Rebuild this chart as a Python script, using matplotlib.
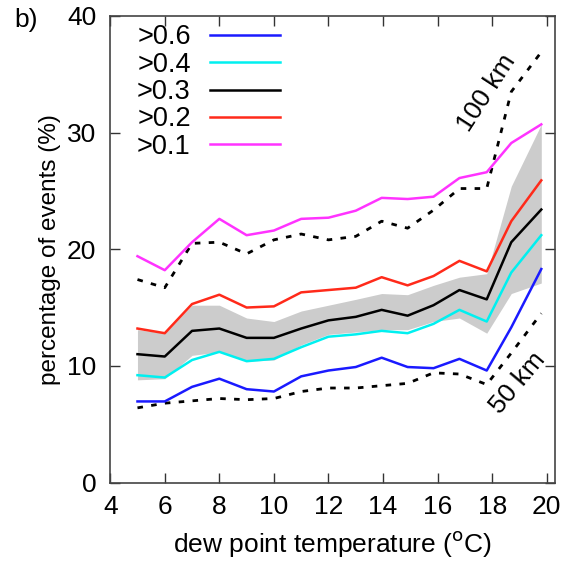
import matplotlib
matplotlib.use("Agg")
import matplotlib.pyplot as plt

plt.rcParams["font.family"] = ["Liberation Sans", "DejaVu Sans"]

# ---- data ----
dew = [5, 6, 7, 8, 9, 10, 11, 12, 13, 13.95, 14.9, 15.85, 16.8, 17.8, 18.7, 19.8]
p06 = [6.95, 6.95, 8.2, 8.9, 8.0, 7.8, 9.1, 9.6, 9.9, 10.7, 9.9, 9.8, 10.6, 9.6, 13.3, 18.3]
p04 = [9.2, 9.0, 10.5, 11.2, 10.4, 10.6, 11.6, 12.5, 12.7, 13.0, 12.8, 13.6, 14.8, 13.8, 18.0, 21.2]
p03 = [11.0, 10.8, 13.0, 13.2, 12.4, 12.4, 13.2, 13.9, 14.2, 14.8, 14.3, 15.2, 16.5, 15.7, 20.6, 23.4]
p02 = [13.2, 12.8, 15.3, 16.1, 15.0, 15.1, 16.3, 16.5, 16.7, 17.6, 16.9, 17.7, 19.0, 18.1, 22.4, 25.9]
p01 = [19.4, 18.2, 20.6, 22.6, 21.2, 21.6, 22.6, 22.7, 23.3, 24.4, 24.3, 24.5, 26.1, 26.6, 29.1, 30.7]
band_lo = [8.8, 8.9, 10.9, 11.2, 10.4, 10.5, 11.8, 12.7, 12.9, 13.1, 13.1, 13.8, 14.1, 12.8, 16.2, 17.1]
band_hi = [13.1, 12.8, 15.2, 15.2, 14.1, 13.8, 14.7, 15.2, 15.7, 16.2, 16.1, 16.9, 17.6, 17.9, 25.4, 30.7]
km100 = [17.4, 16.7, 20.5, 20.6, 19.6, 20.8, 21.3, 20.8, 21.1, 22.4, 21.8, 23.35, 25.2, 25.2, 33.5, 36.9]
km50 = [6.4, 6.8, 7.0, 7.2, 7.1, 7.2, 7.8, 8.1, 8.1, 8.3, 8.5, 9.4, 9.3, 8.4, 11.1, 14.5]

series = [(">0.6", p06, "#1a1aff"), (">0.4", p04, "#00f0f0"), (">0.3", p03, "black"),
          (">0.2", p02, "#ff2a1a"), (">0.1", p01, "#ff33ff")]

fig = plt.figure(figsize=(5.68, 5.67), dpi=100)
ax = fig.add_axes([0.194, 0.149, 0.783, 0.823])

ax.fill_between(dew, band_lo, band_hi, color="#cccccc", lw=0, zorder=1)
ax.plot(dew, km100, color="black", lw=2, ls=(0, (2, 3)), zorder=2)
ax.plot(dew, km50, color="black", lw=2, ls=(0, (2, 3)), zorder=2)
for lab, y, c in series:
    ax.plot(dew, y, color=c, lw=1.8, label=lab, zorder=3)

ax.text(17.8, 33.4, "100 km", rotation=57, ha="center", va="center", fontsize=19)
ax.text(18.95, 8.5, "50 km", rotation=50, ha="center", va="center", fontsize=19)

ax.set_xlim(4, 20.3)
ax.set_ylim(0, 40)
ax.set_xticks(range(4, 21, 2))
ax.set_yticks(range(0, 41, 10))
ax.tick_params(direction="in", length=7, width=1, top=True, right=True, labelsize=19,
               colors="#333333", labelcolor="black")
ax.tick_params(axis="y", pad=10)
ax.tick_params(axis="x", pad=9)
for s in ax.spines.values():
    s.set_color("#444444")
    s.set_linewidth(1.2)

ax.set_xlabel("dew point temperature ($^{\\rm o}$C)", fontsize=19, labelpad=7)
ax.set_ylabel("percentage of events (%)", fontsize=17.5, labelpad=4)
fig.text(0.025, 0.965, "b)", fontsize=19, va="center")

ax.legend(loc="upper left", frameon=False, markerfirst=False, fontsize=19.5,
          handlelength=2.6, handletextpad=0.7, labelspacing=0.05,
          borderaxespad=0.0, bbox_to_anchor=(0.036, 1.005))

fig.savefig("out.png", dpi=100)
